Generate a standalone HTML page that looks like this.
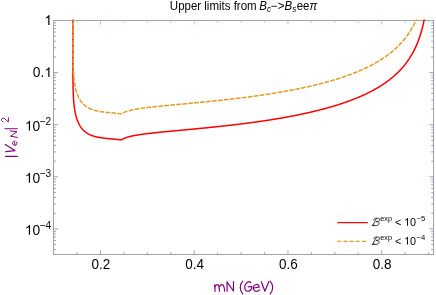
<!DOCTYPE html>
<html><head><meta charset="utf-8"><title>plot</title>
<style>
html,body{margin:0;padding:0;background:#fff;}
body{width:436px;height:295px;overflow:hidden;}
svg{display:block;font-family:"Liberation Sans",sans-serif;}
</style></head>
<body>
<svg width="436" height="295" viewBox="0 0 436 295">
<rect width="436" height="295" fill="#ffffff"/>
<defs><clipPath id="clip"><rect x="53.5" y="19.5" width="380.0" height="235.0"/></clipPath></defs>
<g shape-rendering="auto">
<line x1="53.5" y1="20.5" x2="433.5" y2="20.5" stroke="#a2a2a2"/><line x1="53.5" y1="254.5" x2="433.5" y2="254.5" stroke="#a2a2a2"/><line x1="53.5" y1="20.0" x2="53.5" y2="255.0" stroke="#a2a2a2"/><line x1="433.5" y1="20.0" x2="433.5" y2="255.0" stroke="#a2a2a2"/>
<line x1="53.63" y1="254.50" x2="53.63" y2="252.20" stroke="#a2a2a2" stroke-width="1.0"/><line x1="53.63" y1="20.50" x2="53.63" y2="22.80" stroke="#7ef27e" stroke-width="1.0"/><line x1="77.06" y1="254.50" x2="77.06" y2="252.20" stroke="#a2a2a2" stroke-width="1.0"/><line x1="77.06" y1="20.50" x2="77.06" y2="22.80" stroke="#7ef27e" stroke-width="1.0"/><line x1="100.50" y1="254.50" x2="100.50" y2="250.50" stroke="#a2a2a2" stroke-width="1.0"/><line x1="100.50" y1="20.50" x2="100.50" y2="24.50" stroke="#7ef27e" stroke-width="1.0"/><line x1="123.94" y1="254.50" x2="123.94" y2="252.20" stroke="#a2a2a2" stroke-width="1.0"/><line x1="123.94" y1="20.50" x2="123.94" y2="22.80" stroke="#7ef27e" stroke-width="1.0"/><line x1="147.37" y1="254.50" x2="147.37" y2="252.20" stroke="#a2a2a2" stroke-width="1.0"/><line x1="147.37" y1="20.50" x2="147.37" y2="22.80" stroke="#7ef27e" stroke-width="1.0"/><line x1="170.81" y1="254.50" x2="170.81" y2="252.20" stroke="#a2a2a2" stroke-width="1.0"/><line x1="170.81" y1="20.50" x2="170.81" y2="22.80" stroke="#7ef27e" stroke-width="1.0"/><line x1="194.24" y1="254.50" x2="194.24" y2="250.50" stroke="#a2a2a2" stroke-width="1.0"/><line x1="194.24" y1="20.50" x2="194.24" y2="24.50" stroke="#7ef27e" stroke-width="1.0"/><line x1="217.68" y1="254.50" x2="217.68" y2="252.20" stroke="#a2a2a2" stroke-width="1.0"/><line x1="217.68" y1="20.50" x2="217.68" y2="22.80" stroke="#7ef27e" stroke-width="1.0"/><line x1="241.11" y1="254.50" x2="241.11" y2="252.20" stroke="#a2a2a2" stroke-width="1.0"/><line x1="241.11" y1="20.50" x2="241.11" y2="22.80" stroke="#7ef27e" stroke-width="1.0"/><line x1="264.55" y1="254.50" x2="264.55" y2="252.20" stroke="#a2a2a2" stroke-width="1.0"/><line x1="264.55" y1="20.50" x2="264.55" y2="22.80" stroke="#7ef27e" stroke-width="1.0"/><line x1="287.98" y1="254.50" x2="287.98" y2="250.50" stroke="#a2a2a2" stroke-width="1.0"/><line x1="287.98" y1="20.50" x2="287.98" y2="24.50" stroke="#7ef27e" stroke-width="1.0"/><line x1="311.41" y1="254.50" x2="311.41" y2="252.20" stroke="#a2a2a2" stroke-width="1.0"/><line x1="311.41" y1="20.50" x2="311.41" y2="22.80" stroke="#7ef27e" stroke-width="1.0"/><line x1="334.85" y1="254.50" x2="334.85" y2="252.20" stroke="#a2a2a2" stroke-width="1.0"/><line x1="334.85" y1="20.50" x2="334.85" y2="22.80" stroke="#7ef27e" stroke-width="1.0"/><line x1="358.29" y1="254.50" x2="358.29" y2="252.20" stroke="#a2a2a2" stroke-width="1.0"/><line x1="358.29" y1="20.50" x2="358.29" y2="22.80" stroke="#7ef27e" stroke-width="1.0"/><line x1="381.72" y1="254.50" x2="381.72" y2="250.50" stroke="#a2a2a2" stroke-width="1.0"/><line x1="381.72" y1="20.50" x2="381.72" y2="24.50" stroke="#7ef27e" stroke-width="1.0"/><line x1="405.16" y1="254.50" x2="405.16" y2="252.20" stroke="#a2a2a2" stroke-width="1.0"/><line x1="405.16" y1="20.50" x2="405.16" y2="22.80" stroke="#7ef27e" stroke-width="1.0"/><line x1="428.59" y1="254.50" x2="428.59" y2="252.20" stroke="#a2a2a2" stroke-width="1.0"/><line x1="428.59" y1="20.50" x2="428.59" y2="22.80" stroke="#7ef27e" stroke-width="1.0"/><line x1="53.50" y1="20.50" x2="57.90" y2="20.50" stroke="#a2a2a2" stroke-width="1.0"/><line x1="433.50" y1="20.50" x2="429.30" y2="20.50" stroke="#9c9cf5" stroke-width="1.0"/><line x1="53.50" y1="56.92" x2="56.00" y2="56.92" stroke="#a2a2a2" stroke-width="1.0"/><line x1="433.50" y1="56.92" x2="431.20" y2="56.92" stroke="#9c9cf5" stroke-width="1.0"/><line x1="53.50" y1="47.74" x2="56.00" y2="47.74" stroke="#a2a2a2" stroke-width="1.0"/><line x1="433.50" y1="47.74" x2="431.20" y2="47.74" stroke="#9c9cf5" stroke-width="1.0"/><line x1="53.50" y1="41.23" x2="56.00" y2="41.23" stroke="#a2a2a2" stroke-width="1.0"/><line x1="433.50" y1="41.23" x2="431.20" y2="41.23" stroke="#9c9cf5" stroke-width="1.0"/><line x1="53.50" y1="36.18" x2="56.00" y2="36.18" stroke="#a2a2a2" stroke-width="1.0"/><line x1="433.50" y1="36.18" x2="431.20" y2="36.18" stroke="#9c9cf5" stroke-width="1.0"/><line x1="53.50" y1="32.06" x2="56.00" y2="32.06" stroke="#a2a2a2" stroke-width="1.0"/><line x1="433.50" y1="32.06" x2="431.20" y2="32.06" stroke="#9c9cf5" stroke-width="1.0"/><line x1="53.50" y1="28.57" x2="56.00" y2="28.57" stroke="#a2a2a2" stroke-width="1.0"/><line x1="433.50" y1="28.57" x2="431.20" y2="28.57" stroke="#9c9cf5" stroke-width="1.0"/><line x1="53.50" y1="25.55" x2="56.00" y2="25.55" stroke="#a2a2a2" stroke-width="1.0"/><line x1="433.50" y1="25.55" x2="431.20" y2="25.55" stroke="#9c9cf5" stroke-width="1.0"/><line x1="53.50" y1="22.88" x2="56.00" y2="22.88" stroke="#a2a2a2" stroke-width="1.0"/><line x1="433.50" y1="22.88" x2="431.20" y2="22.88" stroke="#9c9cf5" stroke-width="1.0"/><line x1="53.50" y1="72.60" x2="57.90" y2="72.60" stroke="#a2a2a2" stroke-width="1.0"/><line x1="433.50" y1="72.60" x2="429.30" y2="72.60" stroke="#9c9cf5" stroke-width="1.0"/><line x1="53.50" y1="109.02" x2="56.00" y2="109.02" stroke="#a2a2a2" stroke-width="1.0"/><line x1="433.50" y1="109.02" x2="431.20" y2="109.02" stroke="#9c9cf5" stroke-width="1.0"/><line x1="53.50" y1="99.84" x2="56.00" y2="99.84" stroke="#a2a2a2" stroke-width="1.0"/><line x1="433.50" y1="99.84" x2="431.20" y2="99.84" stroke="#9c9cf5" stroke-width="1.0"/><line x1="53.50" y1="93.33" x2="56.00" y2="93.33" stroke="#a2a2a2" stroke-width="1.0"/><line x1="433.50" y1="93.33" x2="431.20" y2="93.33" stroke="#9c9cf5" stroke-width="1.0"/><line x1="53.50" y1="88.28" x2="56.00" y2="88.28" stroke="#a2a2a2" stroke-width="1.0"/><line x1="433.50" y1="88.28" x2="431.20" y2="88.28" stroke="#9c9cf5" stroke-width="1.0"/><line x1="53.50" y1="84.16" x2="56.00" y2="84.16" stroke="#a2a2a2" stroke-width="1.0"/><line x1="433.50" y1="84.16" x2="431.20" y2="84.16" stroke="#9c9cf5" stroke-width="1.0"/><line x1="53.50" y1="80.67" x2="56.00" y2="80.67" stroke="#a2a2a2" stroke-width="1.0"/><line x1="433.50" y1="80.67" x2="431.20" y2="80.67" stroke="#9c9cf5" stroke-width="1.0"/><line x1="53.50" y1="77.65" x2="56.00" y2="77.65" stroke="#a2a2a2" stroke-width="1.0"/><line x1="433.50" y1="77.65" x2="431.20" y2="77.65" stroke="#9c9cf5" stroke-width="1.0"/><line x1="53.50" y1="74.98" x2="56.00" y2="74.98" stroke="#a2a2a2" stroke-width="1.0"/><line x1="433.50" y1="74.98" x2="431.20" y2="74.98" stroke="#9c9cf5" stroke-width="1.0"/><line x1="53.50" y1="124.70" x2="57.90" y2="124.70" stroke="#a2a2a2" stroke-width="1.0"/><line x1="433.50" y1="124.70" x2="429.30" y2="124.70" stroke="#9c9cf5" stroke-width="1.0"/><line x1="53.50" y1="161.12" x2="56.00" y2="161.12" stroke="#a2a2a2" stroke-width="1.0"/><line x1="433.50" y1="161.12" x2="431.20" y2="161.12" stroke="#9c9cf5" stroke-width="1.0"/><line x1="53.50" y1="151.94" x2="56.00" y2="151.94" stroke="#a2a2a2" stroke-width="1.0"/><line x1="433.50" y1="151.94" x2="431.20" y2="151.94" stroke="#9c9cf5" stroke-width="1.0"/><line x1="53.50" y1="145.43" x2="56.00" y2="145.43" stroke="#a2a2a2" stroke-width="1.0"/><line x1="433.50" y1="145.43" x2="431.20" y2="145.43" stroke="#9c9cf5" stroke-width="1.0"/><line x1="53.50" y1="140.38" x2="56.00" y2="140.38" stroke="#a2a2a2" stroke-width="1.0"/><line x1="433.50" y1="140.38" x2="431.20" y2="140.38" stroke="#9c9cf5" stroke-width="1.0"/><line x1="53.50" y1="136.26" x2="56.00" y2="136.26" stroke="#a2a2a2" stroke-width="1.0"/><line x1="433.50" y1="136.26" x2="431.20" y2="136.26" stroke="#9c9cf5" stroke-width="1.0"/><line x1="53.50" y1="132.77" x2="56.00" y2="132.77" stroke="#a2a2a2" stroke-width="1.0"/><line x1="433.50" y1="132.77" x2="431.20" y2="132.77" stroke="#9c9cf5" stroke-width="1.0"/><line x1="53.50" y1="129.75" x2="56.00" y2="129.75" stroke="#a2a2a2" stroke-width="1.0"/><line x1="433.50" y1="129.75" x2="431.20" y2="129.75" stroke="#9c9cf5" stroke-width="1.0"/><line x1="53.50" y1="127.08" x2="56.00" y2="127.08" stroke="#a2a2a2" stroke-width="1.0"/><line x1="433.50" y1="127.08" x2="431.20" y2="127.08" stroke="#9c9cf5" stroke-width="1.0"/><line x1="53.50" y1="176.80" x2="57.90" y2="176.80" stroke="#a2a2a2" stroke-width="1.0"/><line x1="433.50" y1="176.80" x2="429.30" y2="176.80" stroke="#9c9cf5" stroke-width="1.0"/><line x1="53.50" y1="213.22" x2="56.00" y2="213.22" stroke="#a2a2a2" stroke-width="1.0"/><line x1="433.50" y1="213.22" x2="431.20" y2="213.22" stroke="#9c9cf5" stroke-width="1.0"/><line x1="53.50" y1="204.04" x2="56.00" y2="204.04" stroke="#a2a2a2" stroke-width="1.0"/><line x1="433.50" y1="204.04" x2="431.20" y2="204.04" stroke="#9c9cf5" stroke-width="1.0"/><line x1="53.50" y1="197.53" x2="56.00" y2="197.53" stroke="#a2a2a2" stroke-width="1.0"/><line x1="433.50" y1="197.53" x2="431.20" y2="197.53" stroke="#9c9cf5" stroke-width="1.0"/><line x1="53.50" y1="192.48" x2="56.00" y2="192.48" stroke="#a2a2a2" stroke-width="1.0"/><line x1="433.50" y1="192.48" x2="431.20" y2="192.48" stroke="#9c9cf5" stroke-width="1.0"/><line x1="53.50" y1="188.36" x2="56.00" y2="188.36" stroke="#a2a2a2" stroke-width="1.0"/><line x1="433.50" y1="188.36" x2="431.20" y2="188.36" stroke="#9c9cf5" stroke-width="1.0"/><line x1="53.50" y1="184.87" x2="56.00" y2="184.87" stroke="#a2a2a2" stroke-width="1.0"/><line x1="433.50" y1="184.87" x2="431.20" y2="184.87" stroke="#9c9cf5" stroke-width="1.0"/><line x1="53.50" y1="181.85" x2="56.00" y2="181.85" stroke="#a2a2a2" stroke-width="1.0"/><line x1="433.50" y1="181.85" x2="431.20" y2="181.85" stroke="#9c9cf5" stroke-width="1.0"/><line x1="53.50" y1="179.18" x2="56.00" y2="179.18" stroke="#a2a2a2" stroke-width="1.0"/><line x1="433.50" y1="179.18" x2="431.20" y2="179.18" stroke="#9c9cf5" stroke-width="1.0"/><line x1="53.50" y1="228.90" x2="57.90" y2="228.90" stroke="#a2a2a2" stroke-width="1.0"/><line x1="433.50" y1="228.90" x2="429.30" y2="228.90" stroke="#9c9cf5" stroke-width="1.0"/><line x1="53.50" y1="249.63" x2="56.00" y2="249.63" stroke="#a2a2a2" stroke-width="1.0"/><line x1="433.50" y1="249.63" x2="431.20" y2="249.63" stroke="#9c9cf5" stroke-width="1.0"/><line x1="53.50" y1="244.58" x2="56.00" y2="244.58" stroke="#a2a2a2" stroke-width="1.0"/><line x1="433.50" y1="244.58" x2="431.20" y2="244.58" stroke="#9c9cf5" stroke-width="1.0"/><line x1="53.50" y1="240.46" x2="56.00" y2="240.46" stroke="#a2a2a2" stroke-width="1.0"/><line x1="433.50" y1="240.46" x2="431.20" y2="240.46" stroke="#9c9cf5" stroke-width="1.0"/><line x1="53.50" y1="236.97" x2="56.00" y2="236.97" stroke="#a2a2a2" stroke-width="1.0"/><line x1="433.50" y1="236.97" x2="431.20" y2="236.97" stroke="#9c9cf5" stroke-width="1.0"/><line x1="53.50" y1="233.95" x2="56.00" y2="233.95" stroke="#a2a2a2" stroke-width="1.0"/><line x1="433.50" y1="233.95" x2="431.20" y2="233.95" stroke="#9c9cf5" stroke-width="1.0"/><line x1="53.50" y1="231.28" x2="56.00" y2="231.28" stroke="#a2a2a2" stroke-width="1.0"/><line x1="433.50" y1="231.28" x2="431.20" y2="231.28" stroke="#9c9cf5" stroke-width="1.0"/>
</g>
<g clip-path="url(#clip)" fill="none" stroke-linejoin="round">
<path d="M72.86,-59.65 L72.86,-38.95 L72.86,-36.91 L72.86,-34.86 L72.86,-32.82 L72.86,-30.77 L72.86,-28.73 L72.86,-26.68 L72.86,-24.64 L72.86,-22.59 L72.86,-20.55 L72.86,-18.50 L72.86,-16.46 L72.86,-14.41 L72.86,-12.37 L72.86,-10.32 L72.86,-8.28 L72.86,-6.23 L72.86,-4.19 L72.86,-2.14 L72.86,-0.09 L72.86,1.95 L72.86,4.00 L72.86,6.04 L72.86,8.09 L72.86,10.13 L72.86,12.18 L72.86,14.22 L72.86,16.27 L72.86,18.31 L72.86,20.36 L72.86,22.40 L72.86,24.45 L72.86,26.49 L72.87,28.54 L72.87,30.58 L72.87,32.63 L72.87,34.67 L72.87,36.72 L72.87,38.77 L72.87,40.81 L72.87,42.86 L72.87,44.90 L72.87,46.95 L72.87,49.00 L72.87,51.04 L72.87,53.09 L72.87,55.13 L72.88,57.18 L72.88,59.23 L72.88,61.28 L72.89,63.33 L72.89,65.38 L72.90,67.43 L72.90,69.48 L72.91,71.54 L72.92,73.59 L72.93,75.65 L72.95,77.71 L72.97,79.78 L72.99,81.85 L73.02,83.92 L73.06,86.00 L73.10,88.09 L73.16,90.19 L73.22,92.30 L73.31,94.43 L73.41,96.57 L73.53,98.72 L73.68,100.91 L73.86,103.11 L74.16,105.99 L74.66,109.64 L75.16,112.45 L75.66,114.74 L76.16,116.68 L76.66,118.36 L77.16,119.83 L77.66,121.15 L78.16,122.33 L78.66,123.40 L79.16,124.38 L79.66,125.28 L80.16,126.11 L80.66,126.87 L81.16,127.58 L81.66,128.24 L82.16,128.85 L82.66,129.42 L83.16,129.96 L83.66,130.46 L84.16,130.93 L84.66,131.37 L85.16,131.78 L85.66,132.17 L86.16,132.54 L86.66,132.89 L87.16,133.21 L87.66,133.52 L88.16,133.81 L88.66,134.09 L89.16,134.35 L89.66,134.59 L90.16,134.82 L90.66,135.04 L91.16,135.25 L91.66,135.45 L92.16,135.63 L92.66,135.81 L93.16,135.98 L93.66,136.14 L94.16,136.29 L94.66,136.43 L95.16,136.57 L95.66,136.70 L96.16,136.82 L96.66,136.94 L97.16,137.05 L97.66,137.15 L98.16,137.25 L98.66,137.35 L99.16,137.44 L99.66,137.53 L100.16,137.61 L100.66,137.69 L101.16,137.77 L101.66,137.84 L102.16,137.91 L102.66,137.98 L103.16,138.05 L103.66,138.11 L104.16,138.17 L104.66,138.23 L105.16,138.29 L105.66,138.34 L106.16,138.40 L106.66,138.45 L107.16,138.50 L107.66,138.55 L108.16,138.60 L108.66,138.65 L109.16,138.70 L109.66,138.74 L110.16,138.79 L110.66,138.84 L111.16,138.88 L111.66,138.93 L112.16,138.98 L112.66,139.02 L113.16,139.07 L113.66,139.12 L114.16,139.16 L114.66,139.21 L115.16,139.26 L115.66,139.31 L116.16,139.36 L116.66,139.41 L117.16,139.46 L117.66,139.51 L118.16,139.56 L118.66,139.61 L119.16,139.67 L119.66,139.72 L120.16,139.73 L120.66,139.74 L121.16,139.75 L121.66,139.76 L121.85,139.76 L122.15,139.51 L122.65,139.20 L123.15,138.92 L123.65,138.67 L124.15,138.43 L124.65,138.21 L125.15,138.01 L125.65,137.82 L126.15,137.63 L126.65,137.46 L127.15,137.30 L127.65,137.15 L128.15,137.00 L128.65,136.86 L129.15,136.72 L129.65,136.59 L130.15,136.47 L130.65,136.35 L131.15,136.23 L131.65,136.12 L132.15,136.01 L132.65,135.91 L133.15,135.80 L133.65,135.70 L134.15,135.61 L134.65,135.51 L135.15,135.42 L135.65,135.33 L136.15,135.24 L136.65,135.15 L137.15,135.07 L137.65,134.99 L138.15,134.91 L138.65,134.83 L139.15,134.75 L139.65,134.67 L140.15,134.60 L140.65,134.52 L141.15,134.45 L141.65,134.38 L142.15,134.31 L142.65,134.24 L143.15,134.17 L143.65,134.10 L144.15,134.04 L144.65,133.97 L145.15,133.91 L145.65,133.84 L146.15,133.78 L146.65,133.72 L147.15,133.66 L147.65,133.59 L148.15,133.53 L148.65,133.47 L149.15,133.42 L149.65,133.36 L150.15,133.30 L150.65,133.24 L151.15,133.18 L151.65,133.13 L152.15,133.07 L152.65,133.02 L153.15,132.96 L153.65,132.90 L154.15,132.85 L154.65,132.80 L155.15,132.74 L155.65,132.69 L156.15,132.64 L156.65,132.58 L157.15,132.53 L157.65,132.48 L158.15,132.43 L158.65,132.38 L159.15,132.32 L159.65,132.27 L160.15,132.22 L160.65,132.17 L161.15,132.12 L161.65,132.07 L162.15,132.02 L162.65,131.97 L163.15,131.92 L163.65,131.87 L164.15,131.82 L164.65,131.78 L165.15,131.73 L165.65,131.68 L166.15,131.63 L166.65,131.58 L167.15,131.53 L167.65,131.49 L168.15,131.44 L168.65,131.39 L169.15,131.34 L169.65,131.29 L170.15,131.25 L170.65,131.20 L171.15,131.15 L171.65,131.10 L172.15,131.06 L172.65,131.01 L173.15,130.96 L173.65,130.92 L174.15,130.87 L174.65,130.82 L175.15,130.78 L175.65,130.73 L176.15,130.68 L176.65,130.63 L177.15,130.59 L177.65,130.54 L178.15,130.49 L178.65,130.45 L179.15,130.40 L179.65,130.35 L180.15,130.31 L180.65,130.26 L181.15,130.22 L181.65,130.17 L182.15,130.12 L182.65,130.08 L183.15,130.03 L183.65,129.98 L184.15,129.94 L184.65,129.89 L185.15,129.84 L185.65,129.80 L186.15,129.75 L186.65,129.70 L187.15,129.65 L187.65,129.61 L188.15,129.56 L188.65,129.51 L189.15,129.47 L189.65,129.42 L190.15,129.37 L190.65,129.33 L191.15,129.28 L191.65,129.23 L192.15,129.18 L192.65,129.14 L193.15,129.09 L193.65,129.04 L194.15,128.99 L194.65,128.95 L195.15,128.90 L195.65,128.85 L196.15,128.80 L196.65,128.75 L197.15,128.71 L197.65,128.66 L198.15,128.61 L198.65,128.56 L199.15,128.51 L199.65,128.47 L200.15,128.42 L200.65,128.37 L201.15,128.32 L201.65,128.27 L202.15,128.22 L202.65,128.17 L203.15,128.12 L203.65,128.07 L204.15,128.02 L204.65,127.97 L205.15,127.92 L205.65,127.88 L206.15,127.83 L206.65,127.78 L207.15,127.73 L207.65,127.67 L208.15,127.62 L208.65,127.57 L209.15,127.52 L209.65,127.47 L210.15,127.42 L210.65,127.37 L211.15,127.32 L211.65,127.27 L212.15,127.22 L212.65,127.17 L213.15,127.11 L213.65,127.06 L214.15,127.01 L214.65,126.96 L215.15,126.91 L215.65,126.85 L216.15,126.80 L216.65,126.75 L217.15,126.69 L217.65,126.64 L218.15,126.59 L218.65,126.53 L219.15,126.48 L219.65,126.43 L220.15,126.37 L220.65,126.32 L221.15,126.27 L221.65,126.21 L222.15,126.16 L222.65,126.10 L223.15,126.05 L223.65,125.99 L224.15,125.94 L224.65,125.88 L225.15,125.83 L225.65,125.77 L226.15,125.71 L226.65,125.66 L227.15,125.60 L227.65,125.54 L228.15,125.49 L228.65,125.43 L229.15,125.37 L229.65,125.32 L230.15,125.26 L230.65,125.20 L231.15,125.14 L231.65,125.09 L232.15,125.03 L232.65,124.97 L233.15,124.91 L233.65,124.85 L234.15,124.79 L234.65,124.73 L235.15,124.67 L235.65,124.61 L236.15,124.55 L236.65,124.49 L237.15,124.43 L237.65,124.37 L238.15,124.31 L238.65,124.25 L239.15,124.19 L239.65,124.13 L240.15,124.07 L240.65,124.00 L241.15,123.94 L241.65,123.88 L242.15,123.82 L242.65,123.75 L243.15,123.69 L243.65,123.63 L244.15,123.56 L244.65,123.50 L245.15,123.44 L245.65,123.37 L246.15,123.31 L246.65,123.24 L247.15,123.18 L247.65,123.11 L248.15,123.05 L248.65,122.98 L249.15,122.91 L249.65,122.85 L250.15,122.78 L250.65,122.71 L251.15,122.65 L251.65,122.58 L252.15,122.51 L252.65,122.44 L253.15,122.38 L253.65,122.31 L254.15,122.24 L254.65,122.17 L255.15,122.10 L255.65,122.03 L256.15,121.96 L256.65,121.89 L257.15,121.82 L257.65,121.75 L258.15,121.68 L258.65,121.61 L259.15,121.54 L259.65,121.46 L260.15,121.39 L260.65,121.32 L261.15,121.25 L261.65,121.17 L262.15,121.10 L262.65,121.03 L263.15,120.95 L263.65,120.88 L264.15,120.80 L264.65,120.73 L265.15,120.65 L265.65,120.58 L266.15,120.50 L266.65,120.43 L267.15,120.35 L267.65,120.27 L268.15,120.20 L268.65,120.12 L269.15,120.04 L269.65,119.96 L270.15,119.88 L270.65,119.81 L271.15,119.73 L271.65,119.65 L272.15,119.57 L272.65,119.49 L273.15,119.41 L273.65,119.33 L274.15,119.24 L274.65,119.16 L275.15,119.08 L275.65,119.00 L276.15,118.92 L276.65,118.83 L277.15,118.75 L277.65,118.67 L278.15,118.58 L278.65,118.50 L279.15,118.41 L279.65,118.33 L280.15,118.24 L280.65,118.15 L281.15,118.07 L281.65,117.98 L282.15,117.89 L282.65,117.81 L283.15,117.72 L283.65,117.63 L284.15,117.54 L284.65,117.45 L285.15,117.36 L285.65,117.27 L286.15,117.18 L286.65,117.09 L287.15,117.00 L287.65,116.91 L288.15,116.81 L288.65,116.72 L289.15,116.63 L289.65,116.53 L290.15,116.44 L290.65,116.35 L291.15,116.25 L291.65,116.16 L292.15,116.06 L292.65,115.96 L293.15,115.87 L293.65,115.77 L294.15,115.67 L294.65,115.57 L295.15,115.48 L295.65,115.38 L296.15,115.28 L296.65,115.18 L297.15,115.08 L297.65,114.98 L298.15,114.87 L298.65,114.77 L299.15,114.67 L299.65,114.57 L300.15,114.46 L300.65,114.36 L301.15,114.25 L301.65,114.15 L302.15,114.04 L302.65,113.94 L303.15,113.83 L303.65,113.72 L304.15,113.62 L304.65,113.51 L305.15,113.40 L305.65,113.29 L306.15,113.18 L306.65,113.07 L307.15,112.96 L307.65,112.85 L308.15,112.73 L308.65,112.62 L309.15,112.51 L309.65,112.39 L310.15,112.28 L310.65,112.16 L311.15,112.05 L311.65,111.93 L312.15,111.81 L312.65,111.70 L313.15,111.58 L313.65,111.46 L314.15,111.34 L314.65,111.22 L315.15,111.10 L315.65,110.98 L316.15,110.85 L316.65,110.73 L317.15,110.61 L317.65,110.48 L318.15,110.36 L318.65,110.23 L319.15,110.11 L319.65,109.98 L320.15,109.85 L320.65,109.72 L321.15,109.59 L321.65,109.46 L322.15,109.33 L322.65,109.20 L323.15,109.07 L323.65,108.94 L324.15,108.80 L324.65,108.67 L325.15,108.53 L325.65,108.40 L326.15,108.26 L326.65,108.12 L327.15,107.99 L327.65,107.85 L328.15,107.71 L328.65,107.57 L329.15,107.42 L329.65,107.28 L330.15,107.14 L330.65,106.99 L331.15,106.85 L331.65,106.70 L332.15,106.56 L332.65,106.41 L333.15,106.26 L333.65,106.11 L334.15,105.96 L334.65,105.81 L335.15,105.66 L335.65,105.50 L336.15,105.35 L336.65,105.19 L337.15,105.04 L337.65,104.88 L338.15,104.72 L338.65,104.56 L339.15,104.40 L339.65,104.24 L340.15,104.08 L340.65,103.92 L341.15,103.75 L341.65,103.59 L342.15,103.42 L342.65,103.25 L343.15,103.08 L343.65,102.91 L344.15,102.74 L344.65,102.57 L345.15,102.40 L345.65,102.22 L346.15,102.05 L346.65,101.87 L347.15,101.69 L347.65,101.51 L348.15,101.33 L348.65,101.15 L349.15,100.97 L349.65,100.78 L350.15,100.60 L350.65,100.41 L351.15,100.22 L351.65,100.03 L352.15,99.84 L352.65,99.65 L353.15,99.46 L353.65,99.26 L354.15,99.06 L354.65,98.87 L355.15,98.67 L355.65,98.46 L356.15,98.26 L356.65,98.06 L357.15,97.85 L357.65,97.64 L358.15,97.44 L358.65,97.22 L359.15,97.01 L359.65,96.80 L360.15,96.58 L360.65,96.37 L361.15,96.15 L361.65,95.93 L362.15,95.70 L362.65,95.48 L363.15,95.25 L363.65,95.02 L364.15,94.79 L364.65,94.56 L365.15,94.33 L365.65,94.09 L366.15,93.85 L366.65,93.61 L367.15,93.37 L367.65,93.13 L368.15,92.88 L368.65,92.63 L369.15,92.38 L369.65,92.13 L370.15,91.87 L370.65,91.62 L371.15,91.36 L371.65,91.10 L372.15,90.83 L372.65,90.56 L373.15,90.29 L373.65,90.02 L374.15,89.75 L374.65,89.47 L375.15,89.19 L375.65,88.91 L376.15,88.62 L376.65,88.33 L377.15,88.04 L377.65,87.75 L378.15,87.45 L378.65,87.15 L379.15,86.84 L379.65,86.54 L380.15,86.23 L380.65,85.91 L381.15,85.60 L381.65,85.28 L382.15,84.95 L382.65,84.63 L383.15,84.30 L383.65,83.96 L384.15,83.62 L384.65,83.28 L385.15,82.94 L385.65,82.58 L386.15,82.23 L386.65,81.87 L387.15,81.51 L387.65,81.14 L388.15,80.77 L388.65,80.39 L389.15,80.01 L389.65,79.63 L390.15,79.23 L390.65,78.84 L391.15,78.44 L391.65,78.03 L392.15,77.62 L392.65,77.20 L393.15,76.77 L393.65,76.35 L394.15,75.91 L394.65,75.47 L395.15,75.02 L395.65,74.56 L396.15,74.10 L396.65,73.63 L397.15,73.16 L397.65,72.67 L398.15,72.18 L398.65,71.68 L399.15,71.17 L399.65,70.66 L400.15,70.13 L400.65,69.60 L401.15,69.06 L401.65,68.51 L402.15,67.94 L402.65,67.37 L403.15,66.79 L403.65,66.20 L404.15,65.59 L404.65,64.97 L405.15,64.35 L405.65,63.70 L406.15,63.05 L406.65,62.38 L407.15,61.70 L407.65,61.00 L408.15,60.28 L408.65,59.55 L409.15,58.81 L409.65,58.04 L410.15,57.26 L410.65,56.46 L411.15,55.63 L411.65,54.79 L412.15,53.92 L412.65,53.03 L413.15,52.11 L413.65,51.17 L414.15,50.20 L414.65,49.19 L415.15,48.16 L415.65,47.09 L416.15,45.99 L416.65,44.85 L417.15,43.66 L417.65,42.44 L418.15,41.16 L418.65,39.83 L419.15,38.45 L419.65,37.00 L420.15,35.49 L420.65,33.91 L421.15,32.25 L421.65,30.50 L422.15,28.65 L422.65,26.69 L423.15,24.61 L423.65,22.39 L424.15,20.01 L424.65,17.45 L424.94,15.85 L425.57,12.15 L426.13,8.46 L426.63,4.76 L427.08,1.06 L427.48,-2.64 L427.84,-6.35 L428.17,-10.05 L428.46,-13.76 L428.72,-17.47 L428.95,-21.18 L429.16,-24.89 L429.34,-28.60 L429.51,-32.31 L429.66,-36.02" stroke="#ff0000" stroke-width="1.5"/>
<path d="M72.86,-85.70 L72.86,-65.00 L72.86,-62.96 L72.86,-60.91 L72.86,-58.87 L72.86,-56.82 L72.86,-54.78 L72.86,-52.73 L72.86,-50.69 L72.86,-48.64 L72.86,-46.60 L72.86,-44.55 L72.86,-42.51 L72.86,-40.46 L72.86,-38.42 L72.86,-36.37 L72.86,-34.33 L72.86,-32.28 L72.86,-30.24 L72.86,-28.19 L72.86,-26.14 L72.86,-24.10 L72.86,-22.05 L72.86,-20.01 L72.86,-17.96 L72.86,-15.92 L72.86,-13.87 L72.86,-11.83 L72.86,-9.78 L72.86,-7.74 L72.86,-5.69 L72.86,-3.65 L72.86,-1.60 L72.86,0.44 L72.87,2.49 L72.87,4.53 L72.87,6.58 L72.87,8.62 L72.87,10.67 L72.87,12.72 L72.87,14.76 L72.87,16.81 L72.87,18.85 L72.87,20.90 L72.87,22.95 L72.87,24.99 L72.87,27.04 L72.87,29.08 L72.88,31.13 L72.88,33.18 L72.88,35.23 L72.89,37.28 L72.89,39.33 L72.90,41.38 L72.90,43.43 L72.91,45.49 L72.92,47.54 L72.93,49.60 L72.95,51.66 L72.97,53.73 L72.99,55.80 L73.02,57.87 L73.06,59.95 L73.10,62.04 L73.16,64.14 L73.22,66.25 L73.31,68.38 L73.41,70.52 L73.53,72.67 L73.68,74.86 L73.86,77.06 L74.16,79.94 L74.66,83.59 L75.16,86.40 L75.66,88.69 L76.16,90.63 L76.66,92.31 L77.16,93.78 L77.66,95.10 L78.16,96.28 L78.66,97.35 L79.16,98.33 L79.66,99.23 L80.16,100.06 L80.66,100.82 L81.16,101.53 L81.66,102.19 L82.16,102.80 L82.66,103.37 L83.16,103.91 L83.66,104.41 L84.16,104.88 L84.66,105.32 L85.16,105.73 L85.66,106.12 L86.16,106.49 L86.66,106.84 L87.16,107.16 L87.66,107.47 L88.16,107.76 L88.66,108.04 L89.16,108.30 L89.66,108.54 L90.16,108.77 L90.66,108.99 L91.16,109.20 L91.66,109.40 L92.16,109.58 L92.66,109.76 L93.16,109.93 L93.66,110.09 L94.16,110.24 L94.66,110.38 L95.16,110.52 L95.66,110.65 L96.16,110.77 L96.66,110.89 L97.16,111.00 L97.66,111.10 L98.16,111.20 L98.66,111.30 L99.16,111.39 L99.66,111.48 L100.16,111.56 L100.66,111.64 L101.16,111.72 L101.66,111.79 L102.16,111.86 L102.66,111.93 L103.16,112.00 L103.66,112.06 L104.16,112.12 L104.66,112.18 L105.16,112.24 L105.66,112.29 L106.16,112.35 L106.66,112.40 L107.16,112.45 L107.66,112.50 L108.16,112.55 L108.66,112.60 L109.16,112.65 L109.66,112.69 L110.16,112.74 L110.66,112.79 L111.16,112.83 L111.66,112.88 L112.16,112.93 L112.66,112.97 L113.16,113.02 L113.66,113.07 L114.16,113.11 L114.66,113.16 L115.16,113.21 L115.66,113.26 L116.16,113.31 L116.66,113.36 L117.16,113.41 L117.66,113.46 L118.16,113.51 L118.66,113.56 L119.16,113.62 L119.66,113.67 L120.16,113.68 L120.66,113.69 L121.16,113.70 L121.66,113.71 L121.85,113.71 L122.15,113.46 L122.65,113.15 L123.15,112.87 L123.65,112.62 L124.15,112.38 L124.65,112.16 L125.15,111.96 L125.65,111.77 L126.15,111.58 L126.65,111.41 L127.15,111.25 L127.65,111.10 L128.15,110.95 L128.65,110.81 L129.15,110.67 L129.65,110.54 L130.15,110.42 L130.65,110.30 L131.15,110.18 L131.65,110.07 L132.15,109.96 L132.65,109.86 L133.15,109.75 L133.65,109.65 L134.15,109.56 L134.65,109.46 L135.15,109.37 L135.65,109.28 L136.15,109.19 L136.65,109.10 L137.15,109.02 L137.65,108.94 L138.15,108.86 L138.65,108.78 L139.15,108.70 L139.65,108.62 L140.15,108.55 L140.65,108.47 L141.15,108.40 L141.65,108.33 L142.15,108.26 L142.65,108.19 L143.15,108.12 L143.65,108.05 L144.15,107.99 L144.65,107.92 L145.15,107.86 L145.65,107.79 L146.15,107.73 L146.65,107.67 L147.15,107.61 L147.65,107.54 L148.15,107.48 L148.65,107.42 L149.15,107.37 L149.65,107.31 L150.15,107.25 L150.65,107.19 L151.15,107.13 L151.65,107.08 L152.15,107.02 L152.65,106.97 L153.15,106.91 L153.65,106.85 L154.15,106.80 L154.65,106.75 L155.15,106.69 L155.65,106.64 L156.15,106.59 L156.65,106.53 L157.15,106.48 L157.65,106.43 L158.15,106.38 L158.65,106.33 L159.15,106.27 L159.65,106.22 L160.15,106.17 L160.65,106.12 L161.15,106.07 L161.65,106.02 L162.15,105.97 L162.65,105.92 L163.15,105.87 L163.65,105.82 L164.15,105.77 L164.65,105.73 L165.15,105.68 L165.65,105.63 L166.15,105.58 L166.65,105.53 L167.15,105.48 L167.65,105.44 L168.15,105.39 L168.65,105.34 L169.15,105.29 L169.65,105.24 L170.15,105.20 L170.65,105.15 L171.15,105.10 L171.65,105.05 L172.15,105.01 L172.65,104.96 L173.15,104.91 L173.65,104.87 L174.15,104.82 L174.65,104.77 L175.15,104.73 L175.65,104.68 L176.15,104.63 L176.65,104.58 L177.15,104.54 L177.65,104.49 L178.15,104.44 L178.65,104.40 L179.15,104.35 L179.65,104.30 L180.15,104.26 L180.65,104.21 L181.15,104.17 L181.65,104.12 L182.15,104.07 L182.65,104.03 L183.15,103.98 L183.65,103.93 L184.15,103.89 L184.65,103.84 L185.15,103.79 L185.65,103.75 L186.15,103.70 L186.65,103.65 L187.15,103.60 L187.65,103.56 L188.15,103.51 L188.65,103.46 L189.15,103.42 L189.65,103.37 L190.15,103.32 L190.65,103.28 L191.15,103.23 L191.65,103.18 L192.15,103.13 L192.65,103.09 L193.15,103.04 L193.65,102.99 L194.15,102.94 L194.65,102.90 L195.15,102.85 L195.65,102.80 L196.15,102.75 L196.65,102.70 L197.15,102.66 L197.65,102.61 L198.15,102.56 L198.65,102.51 L199.15,102.46 L199.65,102.42 L200.15,102.37 L200.65,102.32 L201.15,102.27 L201.65,102.22 L202.15,102.17 L202.65,102.12 L203.15,102.07 L203.65,102.02 L204.15,101.97 L204.65,101.92 L205.15,101.87 L205.65,101.83 L206.15,101.78 L206.65,101.73 L207.15,101.68 L207.65,101.62 L208.15,101.57 L208.65,101.52 L209.15,101.47 L209.65,101.42 L210.15,101.37 L210.65,101.32 L211.15,101.27 L211.65,101.22 L212.15,101.17 L212.65,101.12 L213.15,101.06 L213.65,101.01 L214.15,100.96 L214.65,100.91 L215.15,100.86 L215.65,100.80 L216.15,100.75 L216.65,100.70 L217.15,100.64 L217.65,100.59 L218.15,100.54 L218.65,100.48 L219.15,100.43 L219.65,100.38 L220.15,100.32 L220.65,100.27 L221.15,100.22 L221.65,100.16 L222.15,100.11 L222.65,100.05 L223.15,100.00 L223.65,99.94 L224.15,99.89 L224.65,99.83 L225.15,99.78 L225.65,99.72 L226.15,99.66 L226.65,99.61 L227.15,99.55 L227.65,99.49 L228.15,99.44 L228.65,99.38 L229.15,99.32 L229.65,99.27 L230.15,99.21 L230.65,99.15 L231.15,99.09 L231.65,99.04 L232.15,98.98 L232.65,98.92 L233.15,98.86 L233.65,98.80 L234.15,98.74 L234.65,98.68 L235.15,98.62 L235.65,98.56 L236.15,98.50 L236.65,98.44 L237.15,98.38 L237.65,98.32 L238.15,98.26 L238.65,98.20 L239.15,98.14 L239.65,98.08 L240.15,98.02 L240.65,97.95 L241.15,97.89 L241.65,97.83 L242.15,97.77 L242.65,97.70 L243.15,97.64 L243.65,97.58 L244.15,97.51 L244.65,97.45 L245.15,97.39 L245.65,97.32 L246.15,97.26 L246.65,97.19 L247.15,97.13 L247.65,97.06 L248.15,97.00 L248.65,96.93 L249.15,96.86 L249.65,96.80 L250.15,96.73 L250.65,96.66 L251.15,96.60 L251.65,96.53 L252.15,96.46 L252.65,96.39 L253.15,96.33 L253.65,96.26 L254.15,96.19 L254.65,96.12 L255.15,96.05 L255.65,95.98 L256.15,95.91 L256.65,95.84 L257.15,95.77 L257.65,95.70 L258.15,95.63 L258.65,95.56 L259.15,95.49 L259.65,95.41 L260.15,95.34 L260.65,95.27 L261.15,95.20 L261.65,95.12 L262.15,95.05 L262.65,94.98 L263.15,94.90 L263.65,94.83 L264.15,94.75 L264.65,94.68 L265.15,94.60 L265.65,94.53 L266.15,94.45 L266.65,94.38 L267.15,94.30 L267.65,94.22 L268.15,94.15 L268.65,94.07 L269.15,93.99 L269.65,93.91 L270.15,93.83 L270.65,93.76 L271.15,93.68 L271.65,93.60 L272.15,93.52 L272.65,93.44 L273.15,93.36 L273.65,93.28 L274.15,93.19 L274.65,93.11 L275.15,93.03 L275.65,92.95 L276.15,92.87 L276.65,92.78 L277.15,92.70 L277.65,92.62 L278.15,92.53 L278.65,92.45 L279.15,92.36 L279.65,92.28 L280.15,92.19 L280.65,92.10 L281.15,92.02 L281.65,91.93 L282.15,91.84 L282.65,91.76 L283.15,91.67 L283.65,91.58 L284.15,91.49 L284.65,91.40 L285.15,91.31 L285.65,91.22 L286.15,91.13 L286.65,91.04 L287.15,90.95 L287.65,90.86 L288.15,90.76 L288.65,90.67 L289.15,90.58 L289.65,90.48 L290.15,90.39 L290.65,90.30 L291.15,90.20 L291.65,90.11 L292.15,90.01 L292.65,89.91 L293.15,89.82 L293.65,89.72 L294.15,89.62 L294.65,89.52 L295.15,89.43 L295.65,89.33 L296.15,89.23 L296.65,89.13 L297.15,89.03 L297.65,88.93 L298.15,88.82 L298.65,88.72 L299.15,88.62 L299.65,88.52 L300.15,88.41 L300.65,88.31 L301.15,88.20 L301.65,88.10 L302.15,87.99 L302.65,87.89 L303.15,87.78 L303.65,87.67 L304.15,87.57 L304.65,87.46 L305.15,87.35 L305.65,87.24 L306.15,87.13 L306.65,87.02 L307.15,86.91 L307.65,86.80 L308.15,86.68 L308.65,86.57 L309.15,86.46 L309.65,86.34 L310.15,86.23 L310.65,86.11 L311.15,86.00 L311.65,85.88 L312.15,85.76 L312.65,85.65 L313.15,85.53 L313.65,85.41 L314.15,85.29 L314.65,85.17 L315.15,85.05 L315.65,84.93 L316.15,84.80 L316.65,84.68 L317.15,84.56 L317.65,84.43 L318.15,84.31 L318.65,84.18 L319.15,84.06 L319.65,83.93 L320.15,83.80 L320.65,83.67 L321.15,83.54 L321.65,83.41 L322.15,83.28 L322.65,83.15 L323.15,83.02 L323.65,82.89 L324.15,82.75 L324.65,82.62 L325.15,82.48 L325.65,82.35 L326.15,82.21 L326.65,82.07 L327.15,81.94 L327.65,81.80 L328.15,81.66 L328.65,81.52 L329.15,81.37 L329.65,81.23 L330.15,81.09 L330.65,80.94 L331.15,80.80 L331.65,80.65 L332.15,80.51 L332.65,80.36 L333.15,80.21 L333.65,80.06 L334.15,79.91 L334.65,79.76 L335.15,79.61 L335.65,79.45 L336.15,79.30 L336.65,79.14 L337.15,78.99 L337.65,78.83 L338.15,78.67 L338.65,78.51 L339.15,78.35 L339.65,78.19 L340.15,78.03 L340.65,77.87 L341.15,77.70 L341.65,77.54 L342.15,77.37 L342.65,77.20 L343.15,77.03 L343.65,76.86 L344.15,76.69 L344.65,76.52 L345.15,76.35 L345.65,76.17 L346.15,76.00 L346.65,75.82 L347.15,75.64 L347.65,75.46 L348.15,75.28 L348.65,75.10 L349.15,74.92 L349.65,74.73 L350.15,74.55 L350.65,74.36 L351.15,74.17 L351.65,73.98 L352.15,73.79 L352.65,73.60 L353.15,73.41 L353.65,73.21 L354.15,73.01 L354.65,72.82 L355.15,72.62 L355.65,72.41 L356.15,72.21 L356.65,72.01 L357.15,71.80 L357.65,71.59 L358.15,71.39 L358.65,71.17 L359.15,70.96 L359.65,70.75 L360.15,70.53 L360.65,70.32 L361.15,70.10 L361.65,69.88 L362.15,69.65 L362.65,69.43 L363.15,69.20 L363.65,68.97 L364.15,68.74 L364.65,68.51 L365.15,68.28 L365.65,68.04 L366.15,67.80 L366.65,67.56 L367.15,67.32 L367.65,67.08 L368.15,66.83 L368.65,66.58 L369.15,66.33 L369.65,66.08 L370.15,65.82 L370.65,65.57 L371.15,65.31 L371.65,65.05 L372.15,64.78 L372.65,64.51 L373.15,64.24 L373.65,63.97 L374.15,63.70 L374.65,63.42 L375.15,63.14 L375.65,62.86 L376.15,62.57 L376.65,62.28 L377.15,61.99 L377.65,61.70 L378.15,61.40 L378.65,61.10 L379.15,60.79 L379.65,60.49 L380.15,60.18 L380.65,59.86 L381.15,59.55 L381.65,59.23 L382.15,58.90 L382.65,58.58 L383.15,58.25 L383.65,57.91 L384.15,57.57 L384.65,57.23 L385.15,56.89 L385.65,56.53 L386.15,56.18 L386.65,55.82 L387.15,55.46 L387.65,55.09 L388.15,54.72 L388.65,54.34 L389.15,53.96 L389.65,53.58 L390.15,53.18 L390.65,52.79 L391.15,52.39 L391.65,51.98 L392.15,51.57 L392.65,51.15 L393.15,50.72 L393.65,50.30 L394.15,49.86 L394.65,49.42 L395.15,48.97 L395.65,48.51 L396.15,48.05 L396.65,47.58 L397.15,47.11 L397.65,46.62 L398.15,46.13 L398.65,45.63 L399.15,45.12 L399.65,44.61 L400.15,44.08 L400.65,43.55 L401.15,43.01 L401.65,42.46 L402.15,41.89 L402.65,41.32 L403.15,40.74 L403.65,40.15 L404.15,39.54 L404.65,38.92 L405.15,38.30 L405.65,37.65 L406.15,37.00 L406.65,36.33 L407.15,35.65 L407.65,34.95 L408.15,34.23 L408.65,33.50 L409.15,32.76 L409.65,31.99 L410.15,31.21 L410.65,30.41 L411.15,29.58 L411.65,28.74 L412.15,27.87 L412.65,26.98 L413.15,26.06 L413.65,25.12 L414.15,24.15 L414.65,23.14 L415.15,22.11 L415.65,21.04 L416.15,19.94 L416.65,18.80 L417.15,17.61 L417.65,16.39 L418.15,15.11 L418.65,13.78 L419.15,12.40 L419.65,10.95 L420.15,9.44 L420.65,7.86 L421.15,6.20 L421.65,4.45 L422.15,2.60 L422.65,0.64 L423.15,-1.44 L423.65,-3.66 L424.15,-6.04 L424.65,-8.60 L424.94,-10.20 L425.57,-13.90 L426.13,-17.59 L426.63,-21.29 L427.08,-24.99 L427.48,-28.69 L427.84,-32.40 L428.17,-36.10 L428.46,-39.81 L428.72,-43.52 L428.95,-47.23 L429.16,-50.94 L429.34,-54.65 L429.51,-58.36 L429.66,-62.07" stroke="#e19c24" stroke-width="1.5" stroke-dasharray="4.7 1.3"/>
</g>
<g opacity="0.999">
<text transform="translate(91.42,268.80) scale(1.0,1.04)" font-size="13.5" fill="#000">0</text><text transform="translate(98.92,268.80) scale(1.0,1.04)" font-size="13.5" fill="#000">.</text><text transform="translate(102.68,268.80) scale(1.0,1.04)" font-size="13.5" fill="#000">2</text><text transform="translate(185.16,268.80) scale(1.0,1.04)" font-size="13.5" fill="#000">0</text><text transform="translate(192.66,268.80) scale(1.0,1.04)" font-size="13.5" fill="#000">.</text><text transform="translate(196.42,268.80) scale(1.0,1.04)" font-size="13.5" fill="#000">4</text><text transform="translate(278.90,268.80) scale(1.0,1.04)" font-size="13.5" fill="#000">0</text><text transform="translate(286.40,268.80) scale(1.0,1.04)" font-size="13.5" fill="#000">.</text><text transform="translate(290.16,268.80) scale(1.0,1.04)" font-size="13.5" fill="#000">6</text><text transform="translate(372.64,268.80) scale(1.0,1.04)" font-size="13.5" fill="#000">0</text><text transform="translate(380.14,268.80) scale(1.0,1.04)" font-size="13.5" fill="#000">.</text><text transform="translate(383.90,268.80) scale(1.0,1.04)" font-size="13.5" fill="#000">8</text><path transform="translate(44.33,24.90) scale(0.006738,-0.006738)" d="M763 0H583V1147Q518 1085 412.5 1023Q307 961 223 930V1104Q374 1175 487 1276Q600 1377 647 1472H763Z" fill="#000"/><text transform="translate(32.82,77.10) scale(1.0,1.03)" font-size="13.8" fill="#000">0</text><text transform="translate(40.49,77.10) scale(1.0,1.03)" font-size="13.8" fill="#000">.</text><path transform="translate(44.33,77.10) scale(0.006738,-0.006738)" d="M763 0H583V1147Q518 1085 412.5 1023Q307 961 223 930V1104Q374 1175 487 1276Q600 1377 647 1472H763Z" fill="#000"/><path transform="translate(24.90,130.60) scale(0.006738,-0.006738)" d="M763 0H583V1147Q518 1085 412.5 1023Q307 961 223 930V1104Q374 1175 487 1276Q600 1377 647 1472H763Z" fill="#000"/><text transform="translate(32.57,130.60) scale(1.0,1.03)" font-size="13.8" fill="#000">0</text><text transform="translate(39.60,125.10) scale(1.0,1.06)" font-size="10.1" fill="#000">−</text><text transform="translate(45.50,125.10) scale(1.0,1.06)" font-size="10.1" fill="#000">2</text><path transform="translate(24.90,182.70) scale(0.006738,-0.006738)" d="M763 0H583V1147Q518 1085 412.5 1023Q307 961 223 930V1104Q374 1175 487 1276Q600 1377 647 1472H763Z" fill="#000"/><text transform="translate(32.57,182.70) scale(1.0,1.03)" font-size="13.8" fill="#000">0</text><text transform="translate(39.60,177.20) scale(1.0,1.06)" font-size="10.1" fill="#000">−</text><text transform="translate(45.50,177.20) scale(1.0,1.06)" font-size="10.1" fill="#000">3</text><path transform="translate(24.90,234.80) scale(0.006738,-0.006738)" d="M763 0H583V1147Q518 1085 412.5 1023Q307 961 223 930V1104Q374 1175 487 1276Q600 1377 647 1472H763Z" fill="#000"/><text transform="translate(32.57,234.80) scale(1.0,1.03)" font-size="13.8" fill="#000">0</text><text transform="translate(39.60,229.30) scale(1.0,1.06)" font-size="10.1" fill="#000">−</text><text transform="translate(45.50,229.30) scale(1.0,1.06)" font-size="10.1" fill="#000">4</text><text transform="translate(380.3,221.40) scale(1,1.02)" font-size="7.3" fill="#000">exp</text><text transform="translate(394.9,225.70) scale(1,1.04)" font-size="10.8" fill="#000">&lt;</text><path transform="translate(404.00,225.70) scale(0.005273,-0.005273)" d="M763 0H583V1147Q518 1085 412.5 1023Q307 961 223 930V1104Q374 1175 487 1276Q600 1377 647 1472H763Z" fill="#000"/><text transform="translate(410.00,225.70) scale(1.0,1.04)" font-size="10.8" fill="#000">0</text><text transform="translate(416.50,221.10) scale(1.0,1.0)" font-size="7.7" fill="#000">−</text><text transform="translate(421.00,221.10) scale(1.0,1.0)" font-size="7.7" fill="#000">5</text><text transform="translate(380.3,240.20) scale(1,1.02)" font-size="7.3" fill="#000">exp</text><text transform="translate(394.9,244.50) scale(1,1.04)" font-size="10.8" fill="#000">&lt;</text><path transform="translate(404.00,244.50) scale(0.005273,-0.005273)" d="M763 0H583V1147Q518 1085 412.5 1023Q307 961 223 930V1104Q374 1175 487 1276Q600 1377 647 1472H763Z" fill="#000"/><text transform="translate(410.00,244.50) scale(1.0,1.04)" font-size="10.8" fill="#000">0</text><text transform="translate(416.50,239.90) scale(1.0,1.0)" font-size="7.7" fill="#000">−</text><text transform="translate(421.00,239.90) scale(1.0,1.0)" font-size="7.7" fill="#000">4</text>
<text transform="translate(243.5,9.9) scale(1,1.04)" font-size="11.5" text-anchor="middle" fill="#000">Upper limits from <tspan font-style="italic" dx="-0.5">B</tspan><tspan font-style="italic" font-size="8.2" dy="2.2">c</tspan><tspan dy="-2.2">−&gt;</tspan><tspan font-style="italic">B</tspan><tspan font-style="italic" font-size="8.2" dy="2.2">s</tspan><tspan dy="-2.2" dx="0.4">ee</tspan><tspan font-style="italic">π</tspan></text>
<g fill="none" stroke="#800080" stroke-width="1.2" stroke-linecap="round" stroke-linejoin="round"><path d="M214.7,284.5 L215.1,291.3"/><path d="M215.0,286.9 C215.6,285.3 216.6,284.4 217.6,284.6 C218.9,284.9 219.2,286.4 219.5,291.2"/><path d="M219.5,286.7 C220.2,285.3 221.2,284.4 222.3,284.6 C223.8,284.9 224.3,286.6 224.7,291.2"/><path d="M227.1,291.2 L227.0,281.9 L233.4,291.0 L233.5,281.6"/><path d="M242.8,281.2 C239.4,284.6 239.4,290.2 242.8,293.8"/><path d="M250.9,282.6 C250.2,281.4 248.6,281.3 247.4,282.2 C245.6,283.6 244.4,286.2 244.9,288.6 C245.4,291.0 247.4,291.8 249.4,290.9 C251.0,290.2 251.9,288.4 251.8,286.5 L248.2,286.9"/><path d="M253.7,288.0 L259.2,287.2 C259.2,285.4 257.8,284.2 256.3,284.5 C254.4,284.9 253.2,286.6 253.4,288.4 C253.6,290.4 255.2,291.5 256.8,291.3 C258.0,291.1 259.0,290.6 259.7,289.8"/><path d="M261.3,281.7 L264.9,291.2 L268.9,281.6"/><path d="M270.1,281.2 C273.5,284.6 273.5,290.2 270.2,293.8"/></g>
<g fill="none" stroke="#800080" stroke-linecap="round" stroke-linejoin="round"><path d="M5.4,156.3 L17.4,156.3" stroke-width="1.15"/><path d="M5.7,151.6 L15.0,150.6 L5.3,144.4" stroke-width="1.15"/><path d="M15.0,144.9 L14.4,141.3 C13.2,141.2 12.4,142.1 12.5,143.2 C12.7,144.6 13.9,145.5 15.2,145.3 C16.5,145.1 17.2,144.0 16.9,142.8 C16.8,142.2 16.4,141.7 15.9,141.3" stroke-width="1.0"/><path d="M17.4,137.4 L10.5,136.2 L17.0,131.7 L10.1,130.9" stroke-width="1.0"/><path d="M4.9,128.7 L17.3,128.7" stroke-width="1.15"/><path d="M3.0,121.9 C1.6,121.4 1.2,120.2 1.6,119.2 C2.1,118.0 3.6,117.8 4.6,118.6 C6.0,119.8 7.0,121.0 8.3,122.0 L8.4,117.8" stroke-width="1.0"/></g>
<line x1="337.3" y1="222.6" x2="367.8" y2="222.6" stroke="#ff0000" stroke-width="1.25" /><g transform="translate(0,0.0)" fill="none" stroke="#1a1a1a" stroke-width="0.85" stroke-linecap="round" stroke-linejoin="round"><path d="M376.4,218.4 L372.8,225.4 M372.2,225.6 L374.1,225.3"/><path d="M373.6,220.0 C374.0,219.0 374.6,218.5 375.4,218.4 C376.6,218.1 378.0,218.0 378.9,218.5 C380.2,219.2 380.0,220.4 378.8,221.0 C378.0,221.4 377.0,221.6 376.0,221.6 C377.4,221.6 378.6,221.9 379.0,222.8 C379.5,224.0 378.6,225.0 377.2,225.4 C376.0,225.8 374.4,225.8 372.9,225.2"/></g><line x1="337.3" y1="241.3" x2="366.1" y2="241.3" stroke="#e19c24" stroke-width="1.25" stroke-dasharray="4.1 2.0"/><g transform="translate(0,18.8)" fill="none" stroke="#1a1a1a" stroke-width="0.85" stroke-linecap="round" stroke-linejoin="round"><path d="M376.4,218.4 L372.8,225.4 M372.2,225.6 L374.1,225.3"/><path d="M373.6,220.0 C374.0,219.0 374.6,218.5 375.4,218.4 C376.6,218.1 378.0,218.0 378.9,218.5 C380.2,219.2 380.0,220.4 378.8,221.0 C378.0,221.4 377.0,221.6 376.0,221.6 C377.4,221.6 378.6,221.9 379.0,222.8 C379.5,224.0 378.6,225.0 377.2,225.4 C376.0,225.8 374.4,225.8 372.9,225.2"/></g>
</g>
</svg>
</body></html>
